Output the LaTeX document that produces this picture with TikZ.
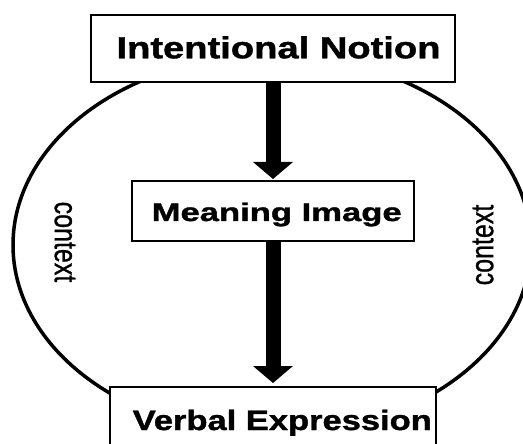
\documentclass[tikz,border=0pt]{standalone}
\usepackage{fontspec}
\setmainfont{Liberation Sans}
\newfontfamily\headfont[FakeBold=1.2]{Liberation Sans Bold}
\newfontfamily\ctxfont[FakeBold=1.0]{Liberation Sans}
\usetikzlibrary{arrows.meta}
\begin{document}
\begin{tikzpicture}[x=1pt,y=-1pt,
  box/.style={draw, line width=2pt, fill=white, inner sep=0pt},
  lbl/.style={anchor=base, inner sep=0pt, font=\headfont},
  ctx/.style={inner sep=0pt, font=\ctxfont},
  bigarrow/.style={line width=15pt, -{Triangle[width=40pt,length=17pt,line width=0pt]}}]
\useasboundingbox (0,0) rectangle (523,444);
\clip (0,0) rectangle (523,444);
\fill[white] (0,0) rectangle (523,444);
\draw[line width=3.5pt] (272,245) ellipse [x radius=259, y radius=190];
\node[box, minimum width=364pt, minimum height=67pt] (top) at (273,48.5) {};
\node[box, minimum width=282pt, minimum height=60pt] (mid) at (273,211) {};
\node[box, minimum width=326pt, minimum height=83pt] (bot) at (273,428.5) {};
\node[lbl] (toplbl) at (278.5,58.3) {\fontsize{30.5}{36}\selectfont\scalebox{1.25}[1]{Intentional Notion}};
\node[lbl] (midlbl) at (276.7,221) {\fontsize{25.5}{30}\selectfont\scalebox{1.357}[1]{Meaning Image}};
\node[lbl] (botlbl) at (282.3,430) {\fontsize{28}{33}\selectfont\scalebox{1.232}[1]{Verbal Expression}};
\node[ctx] (ctxl) at (65,242) {\rotatebox{-90}{\scalebox{1}[1.28]{\fontsize{25}{30}\selectfont context}}};
\node[ctx] (ctxr) at (483,245) {\rotatebox{90}{\scalebox{1}[1.28]{\fontsize{25}{30}\selectfont context}}};
\draw[bigarrow, shorten >=1pt] (top.south) -- (mid.north);
\draw[bigarrow, shorten >=3pt] (mid.south) -- (bot.north);
\end{tikzpicture}
\end{document}
